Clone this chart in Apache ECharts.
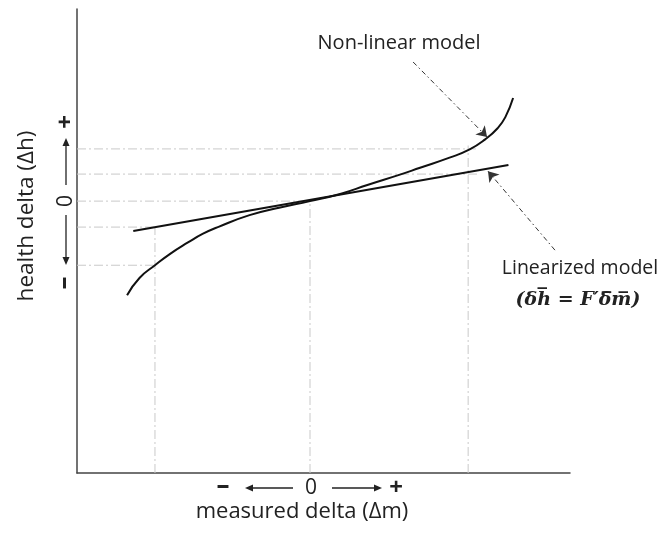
<!DOCTYPE html>
<html>
<head>
<meta charset="utf-8">
<script src="https://cdn.jsdelivr.net/npm/echarts@6/dist/echarts.min.js"></script>
<style>html,body{margin:0;padding:0;background:#fff}#c{width:659px;height:534px}</style>
</head>
<body>
<div id="c"></div>
<script>
// ---- data (abstract units: x 1 = one "delta" step, y) ----
const xRange = [-1.503, 1.677];
const yRange = [-10.26, 7.25];
const nonLinear = [[-1.18,-3.55],[-1.1,-2.9],[-1.0,-2.42],[-0.9,-1.98],[-0.79,-1.57],[-0.69,-1.23],[-0.59,-0.97],[-0.39,-0.53],[-0.2,-0.25],[0,0],[0.2,0.28],[0.37,0.61],[0.58,1.0],[0.71,1.26],[0.9,1.64],[1.03,1.95],[1.13,2.33],[1.21,2.75],[1.26,3.17],[1.31,3.89]];
const linearized = [[-1.14,-1.13],[1.28,1.36]];
// horizontal guides: [y, xEnd]
const hGuides = [[1.97,1.07],[1.02,1.08],[0,0],[-0.98,-1.0],[-2.42,-1.0]];
// vertical guides: [x, yTop]
const vGuides = [[-1.0,-0.98],[0,0],[1.02,2.1]];
// annotation arrows: [from, to]
const annotations = [[[0.665,5.25],[1.142,2.42]],[[1.58,-1.85],[1.148,1.13]]];
const labels = {
  nonLinear: 'Non-linear model',
  linear: 'Linearized model',
  formula: '(\u03B4h\u0305 = F\u2032\u03B4\u0305m\u0305)',
  xName: 'measured delta (\u0394m)',
  yName: 'health delta (\u0394h)'
};

const chart = echarts.init(document.getElementById('c'), null, {renderer:'canvas'});
const guideStyle = {color:'#c9c9c9', width:1, type:[9,3,2,3]};
const series = [];
hGuides.forEach(g => series.push({type:'line', data:[[xRange[0],g[0]],[g[1],g[0]]], showSymbol:false, silent:true, lineStyle:guideStyle, z:1}));
vGuides.forEach(g => series.push({type:'line', data:[[g[0],yRange[0]],[g[0],g[1]]], showSymbol:false, silent:true, lineStyle:guideStyle, z:1}));
series.push({type:'line', data:nonLinear, smooth:0.5, showSymbol:false, silent:true, lineStyle:{color:'#111', width:2}, z:3});
series.push({type:'line', data:linearized, showSymbol:false, silent:true, lineStyle:{color:'#111', width:2}, z:3});
series.push({type:'line', data:[], silent:true, z:4,
  markLine:{silent:true, symbol:['none','arrow'], symbolSize:10, label:{show:false},
    lineStyle:{color:'#333', width:1, type:[5,3,1.5,3]},
    itemStyle:{color:'#222'},
    emphasis:{disabled:true},
    data: annotations.map(a => [{coord:a[0]},{coord:a[1]}])}});

const tc = '#222';
function arrowH(x1, x2, y, dir){ // dir: -1 head at x1 (left), 1 head at x2
  const hx = dir<0 ? x1 : x2;
  return [
    {type:'line', shape:{x1: dir<0 ? x1+6 : x1, y1:y, x2: dir<0 ? x2 : x2-6, y2:y}, style:{stroke:tc, lineWidth:1.3}},
    {type:'polygon', shape:{points:[[hx,y],[hx-dir*8,y-3.5],[hx-dir*8,y+3.5]]}, style:{fill:tc}}
  ];
}
function arrowV(x, y1, y2, dir){ // dir: -1 head at y1 (up), 1 head at y2 (down)
  const hy = dir<0 ? y1 : y2;
  return [
    {type:'line', shape:{x1:x, y1: dir<0 ? y1+6 : y1, x2:x, y2: dir<0 ? y2 : y2-6}, style:{stroke:tc, lineWidth:1.3}},
    {type:'polygon', shape:{points:[[x,hy],[x-3.5,hy-dir*8],[x+3.5,hy-dir*8]]}, style:{fill:tc}}
  ];
}
const font = '"Open Sans", sans-serif';
const graphic = [
  {type:'text', x:399, y:43, style:{text:labels.nonLinear, font:'20px '+font, fill:tc, align:'center', verticalAlign:'middle'}},
  {type:'text', x:580, y:268, style:{text:labels.linear, font:'19.5px '+font, fill:tc, align:'center', verticalAlign:'middle'}},
  {type:'text', x:578, y:300, style:{text:labels.formula, font:'italic bold 19px "DejaVu Serif", serif', fill:tc, align:'center', verticalAlign:'middle'}},
  {type:'text', x:302, y:512, style:{text:labels.xName, font:'22px '+font, fill:tc, align:'center', verticalAlign:'middle'}},
  {type:'text', x:27, y:216, rotation:Math.PI/2, style:{text:labels.yName, font:'22.5px '+font, fill:tc, align:'center', verticalAlign:'middle'}},
  // x-axis sign row
  {type:'text', x:223, y:487, style:{text:'\u2013', font:'bold 26px '+font, fill:tc, align:'center', verticalAlign:'middle'}},
  ...arrowH(245, 293, 488, -1),
  {type:'text', x:311, y:488, style:{text:'0', font:'21px '+font, fill:tc, align:'center', verticalAlign:'middle'}},
  ...arrowH(332, 382, 488, 1),
  {type:'text', x:396, y:488, style:{text:'+', font:'bold 24px '+font, fill:tc, align:'center', verticalAlign:'middle'}},
  // y-axis sign column
  {type:'text', x:66, y:122, rotation:Math.PI/2, style:{text:'+', font:'bold 24px '+font, fill:tc, align:'center', verticalAlign:'middle'}},
  ...arrowV(66, 138, 185, -1),
  {type:'text', x:66, y:201, rotation:Math.PI/2, style:{text:'0', font:'21px '+font, fill:tc, align:'center', verticalAlign:'middle'}},
  ...arrowV(66, 215, 265, 1),
  {type:'text', x:65, y:283, rotation:Math.PI/2, style:{text:'\u2013', font:'bold 26px '+font, fill:tc, align:'center', verticalAlign:'middle'}}
];

chart.setOption({
  animation:false,
  grid:{left:77, right:89, top:9, bottom:61},
  xAxis:{type:'value', min:xRange[0], max:xRange[1], axisLine:{show:true, onZero:false, lineStyle:{color:'#444', width:1.5}}, axisTick:{show:false}, axisLabel:{show:false}, splitLine:{show:false}},
  yAxis:{type:'value', min:yRange[0], max:yRange[1], axisLine:{show:true, onZero:false, lineStyle:{color:'#444', width:1.5}}, axisTick:{show:false}, axisLabel:{show:false}, splitLine:{show:false}},
  series: series,
  graphic: graphic
});
</script>
</body>
</html>
